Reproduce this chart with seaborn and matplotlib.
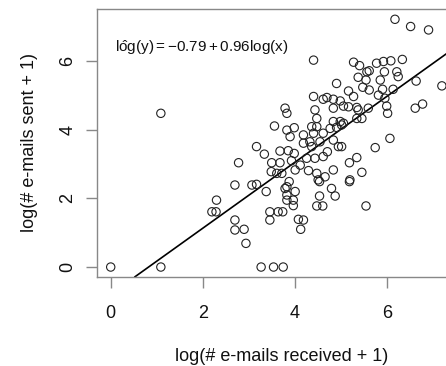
import matplotlib
matplotlib.use("Agg")
import matplotlib.pyplot as plt
import seaborn as sns
import pandas as pd

# log(# e-mails received + 1) for each person
received = [
    6.18, 6.52, 6.91, 4.41, 5.28, 5.41, 5.78, 5.93, 6.09, 6.34,
    5.57, 5.62, 5.38, 5.55, 5.86, 5.95, 6.22, 6.25, 4.91, 6.64,
    7.20, 5.17, 5.48, 5.62, 5.82, 5.91, 6.14, 4.41, 4.62, 4.70,
    4.84, 4.99, 5.28, 5.35, 5.96, 6.00, 6.62, 6.78, 3.79, 3.83,
    4.44, 4.84, 5.06, 5.17, 5.38, 5.60, 6.02, 1.09, 4.48, 4.37,
    4.48, 4.84, 4.99, 5.06, 5.35, 5.46, 3.56, 3.83, 3.99, 3.90,
    4.19, 4.41, 4.62, 4.77, 4.91, 5.02, 3.17, 3.34, 3.68, 3.86,
    3.99, 4.19, 4.33, 4.37, 4.55, 4.71, 4.84, 4.95, 5.02, 5.75,
    6.07, 2.78, 3.50, 3.68, 3.93, 4.12, 4.26, 4.44, 4.62, 3.49,
    3.61, 3.72, 4.01, 4.30, 4.48, 4.84, 5.19, 5.35, 5.46, 5.20,
    5.19, 2.70, 3.07, 3.17, 3.88, 3.83, 4.51, 4.54, 4.66, 3.38,
    3.79, 3.83, 4.01, 4.54, 4.80, 4.88, 2.30, 3.83, 3.97, 3.97,
    2.20, 2.29, 3.46, 3.64, 3.74, 4.48, 4.61, 5.55, 2.70, 3.46,
    4.08, 4.19, 4.13, 2.70, 2.90, 2.94, 0.00, 1.09, 3.27, 3.54,
    3.75,
]

# log(# e-mails sent + 1) for the same people
sent = [
    7.22, 7.01, 6.91, 6.03, 5.97, 5.87, 5.94, 5.99, 6.01, 6.05,
    5.69, 5.72, 5.53, 5.45, 5.45, 5.69, 5.69, 5.55, 5.35, 5.42,
    5.28, 5.13, 5.24, 5.16, 5.01, 5.18, 5.18, 4.97, 4.89, 4.94,
    4.89, 4.84, 4.97, 4.65, 4.92, 4.69, 4.63, 4.75, 4.63, 4.48,
    4.58, 4.63, 4.69, 4.67, 4.58, 4.63, 4.48, 4.48, 4.33, 4.09,
    4.09, 4.24, 4.24, 4.19, 4.33, 4.33, 4.11, 3.99, 4.06, 3.80,
    3.85, 3.90, 3.90, 4.04, 4.07, 4.14, 3.51, 3.29, 3.38, 3.39,
    3.31, 3.61, 3.65, 3.51, 3.65, 3.36, 3.70, 3.51, 3.51, 3.48,
    3.75, 3.04, 3.04, 3.04, 3.10, 2.97, 3.17, 3.17, 3.22, 2.78,
    2.73, 2.73, 2.83, 2.81, 2.73, 2.83, 3.04, 3.19, 2.76, 2.54,
    2.49, 2.39, 2.39, 2.41, 2.49, 2.34, 2.54, 2.49, 2.63, 2.20,
    2.29, 2.10, 2.20, 2.07, 2.29, 2.07, 1.95, 1.95, 1.95, 1.79,
    1.61, 1.61, 1.61, 1.61, 1.61, 1.78, 1.78, 1.78, 1.37, 1.37,
    1.39, 1.37, 1.10, 1.08, 1.10, 0.69, 0.00, 0.00, 0.00, 0.00,
    0.00,
]

# fitted least-squares line: log(y) = b0 + b1 log(x)
intercept = -0.79
slope = 0.96

x_ticks = [0, 2, 4, 6]
y_ticks = [0, 2, 4, 6]

sns.set_theme(style="ticks")
plt.rcParams["font.family"] = ["Liberation Sans", "DejaVu Sans"]
plt.rcParams["mathtext.fontset"] = "custom"
plt.rcParams["mathtext.rm"] = "Liberation Sans"
plt.rcParams["mathtext.it"] = "Liberation Sans"
plt.rcParams["mathtext.bf"] = "Liberation Sans:bold"
plt.rcParams["mathtext.sf"] = "Liberation Sans"

df = pd.DataFrame({"received": received, "sent": sent})

fig = plt.figure(figsize=(4.46, 3.66), dpi=100)
ax = fig.add_axes([0.2175, 0.2432, 0.8295, 0.7322])

sns.scatterplot(data=df, x="received", y="sent", ax=ax, marker="o",
                s=36, facecolors="none", edgecolor="#222222", linewidth=0.8,
                legend=False, zorder=3)

ax.axline((0, intercept), slope=slope, color="black", linewidth=1.2, zorder=2)

ax.set_xlim(-0.298, 7.745)
ax.set_ylim(-0.29, 7.52)
ax.set_xticks(x_ticks)
ax.set_yticks(y_ticks)
ax.set_xticklabels([str(t) for t in x_ticks])
ax.set_yticklabels([str(t) for t in y_ticks], rotation=90, va="center")

for sp in ax.spines.values():
    sp.set_visible(True)
    sp.set_color("#888888")
    sp.set_linewidth(1.0)

ax.tick_params(axis="both", which="major", direction="out", length=8,
               width=1.0, color="#888888", labelsize=13, labelcolor="#111111")
ax.tick_params(axis="x", pad=12)
ax.tick_params(axis="y", pad=7)

ax.set_xlabel("log(# e-mails received + 1)", fontsize=13, color="#111111",
              labelpad=19)
ax.set_ylabel("log(# e-mails sent + 1)", fontsize=13, color="#111111",
              labelpad=15)

ax.text(0.09, 6.41,
        r"$\mathrm{l}\hat{\mathrm{o}}\mathrm{g}(y) = -0.79 + 0.96\mathrm{log}(x)$",
        fontsize=11, ha="left", va="center", color="#111111")

fig.savefig("out.png", dpi=100)
